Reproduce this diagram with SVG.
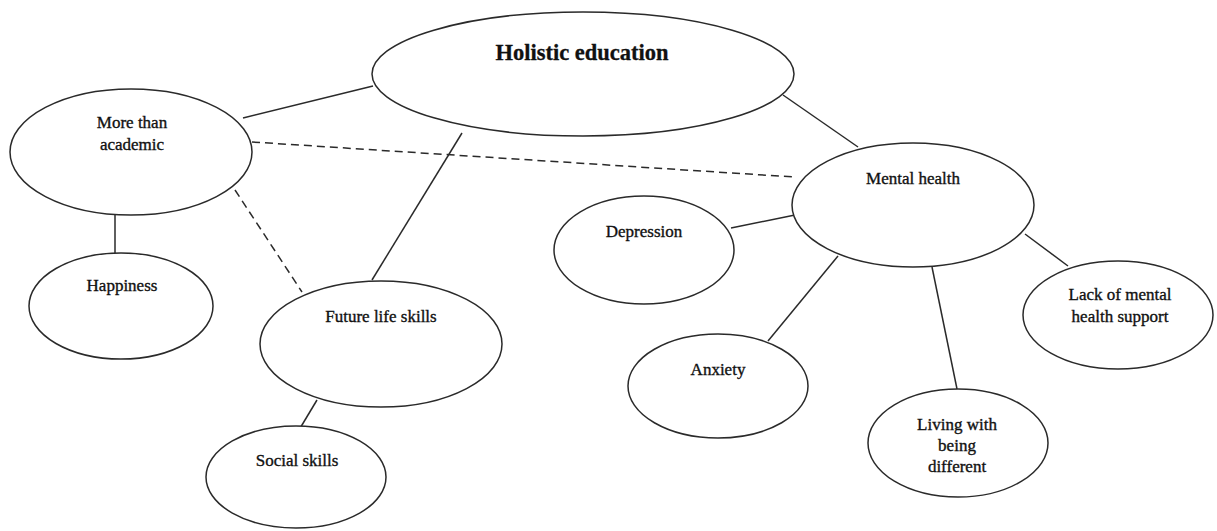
<svg xmlns="http://www.w3.org/2000/svg" width="1217" height="531" viewBox="0 0 1217 531">
  <style>
    .node ellipse { fill: #ffffff; stroke: #2a2a2a; stroke-width: 1.5; }
    .node text { font-family: "Liberation Serif", "Times New Roman", serif; font-size: 17px; fill: #111111; stroke: #111111; stroke-width: 0.35; text-anchor: middle; }
    .node text.title { font-size: 22.5px; font-weight: bold; stroke-width: 0.3; }
    .link { stroke: #2a2a2a; stroke-width: 1.5; fill: none; }
    .link.dashed { stroke-dasharray: 8 5; }
  </style>
  <rect width="1217" height="531" fill="#ffffff"/>

  <!-- connectors -->
  <g id="connectors">
    <line class="link" x1="243" y1="118" x2="373" y2="86"/>
    <line class="link" x1="783" y1="95" x2="858" y2="147"/>
    <line class="link dashed" x1="252" y1="142" x2="794" y2="177"/>
    <line class="link dashed" x1="235" y1="190" x2="302" y2="292"/>
    <line class="link" x1="462" y1="133" x2="372" y2="280"/>
    <line class="link" x1="115" y1="215" x2="115" y2="253"/>
    <line class="link" x1="317" y1="400" x2="299" y2="430"/>
    <line class="link" x1="731" y1="228" x2="795" y2="215"/>
    <line class="link" x1="838" y1="256" x2="768" y2="341"/>
    <line class="link" x1="932" y1="267" x2="957" y2="389"/>
    <line class="link" x1="1025" y1="234" x2="1068" y2="266"/>
  </g>

  <g id="holistic-education" class="node">
    <ellipse cx="583" cy="74" rx="211" ry="62"/>
    <text class="title" x="582" y="60">Holistic education</text>
  </g>

  <g id="more-than-academic" class="node">
    <ellipse cx="131" cy="152" rx="121" ry="63"/>
    <text x="132" y="128">More than</text>
    <text x="132" y="150">academic</text>
  </g>

  <g id="mental-health" class="node">
    <ellipse cx="913" cy="205" rx="121" ry="62"/>
    <text x="913" y="184">Mental health</text>
  </g>

  <g id="happiness" class="node">
    <ellipse cx="121" cy="306" rx="92" ry="53"/>
    <text x="122" y="291">Happiness</text>
  </g>

  <g id="future-life-skills" class="node">
    <ellipse cx="381" cy="344" rx="121" ry="63"/>
    <text x="381" y="322">Future life skills</text>
  </g>

  <g id="social-skills" class="node">
    <ellipse cx="296" cy="477" rx="90" ry="51"/>
    <text x="297" y="466">Social skills</text>
  </g>

  <g id="depression" class="node">
    <ellipse cx="644" cy="250" rx="90" ry="54"/>
    <text x="644" y="237">Depression</text>
  </g>

  <g id="anxiety" class="node">
    <ellipse cx="718" cy="386" rx="90" ry="52"/>
    <text x="718" y="375">Anxiety</text>
  </g>

  <g id="lack-of-support" class="node">
    <ellipse cx="1118" cy="315" rx="95" ry="54"/>
    <text x="1120" y="300">Lack of mental</text>
    <text x="1120" y="322">health support</text>
  </g>

  <g id="living-different" class="node">
    <ellipse cx="958" cy="443" rx="90" ry="54"/>
    <text x="957" y="430">Living with</text>
    <text x="957" y="451">being</text>
    <text x="957" y="472">different</text>
  </g>
</svg>
